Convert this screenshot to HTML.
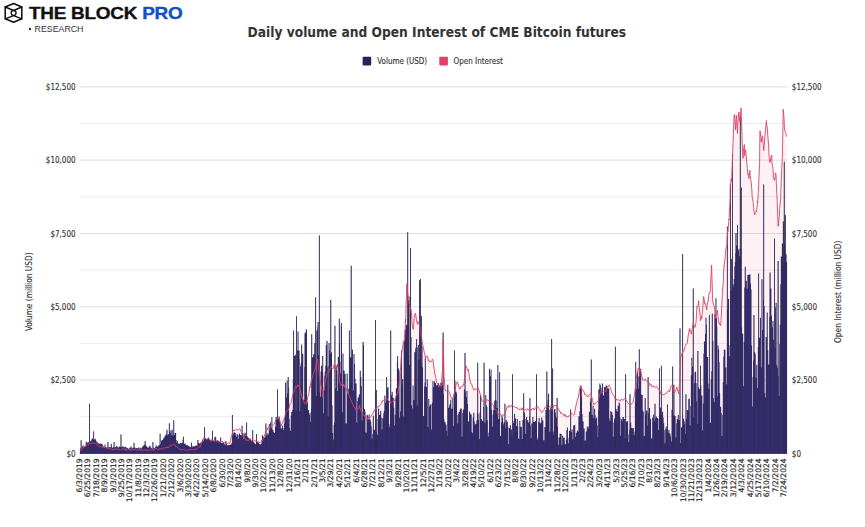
<!DOCTYPE html>
<html lang="en"><head><meta charset="utf-8"><title>Daily volume and Open Interest of CME Bitcoin futures</title>
<style>
html,body{margin:0;padding:0;background:#fff;}
body{width:865px;height:527px;overflow:hidden;font-family:"DejaVu Sans Condensed","DejaVu Sans","Liberation Sans",sans-serif;}
svg text{font-family:"DejaVu Sans Condensed","DejaVu Sans","Liberation Sans",sans-serif;} svg text.xl{font-family:"DejaVu Sans","Liberation Sans",sans-serif;}
.t{font-size:8px;fill:#333333;stroke:#333333;stroke-width:0.12px;}
.xl{font-family:"DejaVu Sans","Liberation Sans",sans-serif;font-size:7.6px;fill:#2a2a2a;stroke:#2a2a2a;stroke-width:0.18px;}
.title{font-size:13.65px;font-weight:bold;fill:#333;}
.logo{font-family:"Liberation Sans",sans-serif;font-weight:bold;font-size:15.6px;fill:#111;stroke:#111;stroke-width:0.35px;letter-spacing:-0.2px;} .logo tspan{stroke:#1351c4;}
.res{font-family:"Liberation Sans",sans-serif;font-size:8.8px;fill:#333;}
</style></head><body>
<svg width="865" height="527" viewBox="0 0 865 527" style="display:block">
<rect width="865" height="527" fill="#ffffff"/>
<rect x="79.9" y="416.24" width="707.2" height="1" fill="#eeeeee"/>
<rect x="79.9" y="379.58" width="707.2" height="1" fill="#dedede"/>
<rect x="79.9" y="342.92" width="707.2" height="1" fill="#eeeeee"/>
<rect x="79.9" y="306.26" width="707.2" height="1" fill="#dedede"/>
<rect x="79.9" y="269.60" width="707.2" height="1" fill="#eeeeee"/>
<rect x="79.9" y="232.94" width="707.2" height="1" fill="#dedede"/>
<rect x="79.9" y="196.28" width="707.2" height="1" fill="#eeeeee"/>
<rect x="79.9" y="159.62" width="707.2" height="1" fill="#dedede"/>
<rect x="79.9" y="122.96" width="707.2" height="1" fill="#eeeeee"/>
<rect x="79.9" y="86.30" width="707.2" height="1" fill="#dedede"/>
<path d="M80.0,450.6 L81.1,450.3 L82.2,448.2 L83.0,448.2 L83.3,447.6 L84.4,446.5 L85.5,446.5 L86.0,445.0 L86.6,444.7 L87.7,444.7 L88.8,444.4 L89.0,443.7 L89.9,444.0 L91.0,443.1 L92.1,443.3 L93.0,443.4 L93.2,442.8 L94.3,442.9 L95.4,443.0 L96.0,444.0 L96.5,444.2 L97.6,444.9 L98.7,445.8 L99.0,445.8 L99.8,446.4 L100.9,447.1 L101.0,447.1 L102.0,446.8 L103.1,447.3 L104.2,446.8 L105.0,447.9 L105.3,446.9 L106.4,447.6 L107.5,449.1 L108.6,447.6 L109.7,449.3 L110.0,449.1 L110.8,448.9 L111.9,449.3 L113.0,449.4 L114.1,449.7 L115.2,449.1 L116.3,449.0 L117.4,449.1 L118.5,448.9 L119.6,449.5 L120.0,449.4 L120.7,450.1 L121.8,448.7 L122.9,449.1 L124.0,449.2 L125.1,448.7 L126.2,450.7 L127.3,448.7 L128.4,449.8 L129.5,449.7 L130.0,450.3 L130.6,449.0 L131.7,450.5 L132.8,449.6 L133.9,449.9 L135.0,449.7 L136.1,450.3 L137.2,449.4 L138.3,450.0 L139.4,450.2 L140.0,450.3 L140.5,448.8 L141.6,450.7 L142.7,450.5 L143.8,449.8 L144.9,450.1 L146.0,449.8 L147.1,450.8 L148.2,450.1 L149.3,449.9 L150.0,450.0 L150.4,449.9 L151.5,449.8 L152.6,449.4 L153.7,450.8 L154.8,448.8 L155.9,447.9 L157.0,449.5 L158.0,449.5 L158.1,449.7 L159.2,449.1 L160.3,448.9 L161.4,448.9 L162.5,449.0 L163.6,448.1 L164.7,447.9 L165.0,448.3 L165.8,448.0 L166.9,446.7 L168.0,448.0 L169.1,446.8 L170.0,445.9 L170.2,445.3 L171.3,445.7 L172.4,444.7 L173.5,444.2 L174.0,444.4 L174.6,444.8 L175.7,446.5 L176.8,446.6 L177.0,446.7 L177.9,448.1 L179.0,448.7 L180.0,449.6 L180.1,450.1 L181.2,449.5 L182.3,449.5 L183.4,449.6 L184.5,449.2 L185.6,450.1 L186.7,450.5 L187.8,450.0 L188.9,449.8 L190.0,449.9 L190.0,449.9 L191.1,449.6 L192.2,449.7 L193.3,449.5 L194.4,449.6 L195.5,449.0 L196.0,449.9 L196.6,449.4 L197.7,448.0 L198.8,446.7 L199.9,447.1 L200.0,447.2 L201.0,444.1 L202.0,441.9 L202.1,441.5 L203.2,439.8 L204.0,437.4 L204.3,438.4 L205.4,438.1 L206.5,439.3 L207.0,439.0 L207.6,439.2 L208.7,439.0 L209.8,440.0 L210.0,440.4 L210.9,441.0 L212.0,440.8 L213.1,440.4 L214.2,441.2 L215.0,441.2 L215.3,440.9 L216.4,440.9 L217.5,441.0 L218.6,441.8 L219.7,441.8 L220.0,441.3 L220.8,441.9 L221.9,441.6 L223.0,441.7 L224.1,443.0 L225.0,442.7 L225.2,442.1 L226.3,442.8 L227.4,443.3 L228.5,442.9 L229.6,443.5 L229.8,443.7 L230.7,438.8 L231.8,435.5 L232.8,431.4 L232.9,431.5 L234.0,429.8 L235.1,430.6 L236.2,429.4 L237.3,430.0 L238.4,429.7 L239.5,429.0 L239.7,428.6 L240.6,430.2 L241.7,433.4 L242.8,434.4 L243.9,437.5 L244.6,438.7 L245.0,438.6 L246.1,440.5 L247.2,439.5 L248.3,441.1 L249.4,439.0 L250.5,439.2 L251.6,441.4 L252.0,441.1 L252.7,440.9 L253.8,441.2 L254.9,440.3 L256.0,441.2 L257.1,441.1 L258.2,441.7 L259.3,442.5 L260.4,442.1 L261.5,442.5 L261.9,442.2 L262.6,440.2 L263.7,437.5 L264.8,434.3 L265.9,432.4 L266.9,428.6 L267.0,430.1 L268.1,427.3 L269.2,428.0 L270.3,425.9 L271.4,427.0 L272.5,425.1 L273.6,424.6 L274.3,424.0 L274.7,422.6 L275.8,420.5 L276.9,417.8 L278.0,418.7 L278.0,417.5 L279.1,419.4 L280.2,422.0 L281.3,425.7 L281.7,424.5 L282.4,423.3 L283.5,419.7 L284.6,417.5 L285.7,412.4 L286.6,411.4 L286.8,411.9 L287.9,410.3 L289.0,408.2 L290.1,403.6 L291.2,402.3 L291.5,401.6 L292.3,396.9 L293.4,392.4 L294.5,390.5 L295.2,386.9 L295.6,386.5 L296.7,387.8 L297.8,384.8 L298.9,386.3 L299.0,385.6 L300.0,389.2 L301.1,393.8 L302.2,397.4 L302.7,399.1 L303.3,400.1 L304.4,403.3 L305.5,402.5 L306.4,404.4 L306.6,403.7 L307.7,397.4 L308.8,393.4 L309.9,386.3 L310.0,387.3 L311.0,381.9 L312.1,378.0 L313.2,374.8 L313.8,372.4 L314.3,371.6 L315.4,367.9 L316.5,362.7 L317.5,359.1 L317.6,361.2 L318.7,369.5 L319.8,376.6 L320.0,379.8 L320.9,385.0 L322.0,390.2 L322.9,396.9 L323.1,394.0 L324.2,387.7 L325.3,382.4 L326.1,376.3 L326.4,376.4 L327.5,372.4 L328.6,372.9 L329.7,368.7 L329.8,369.6 L330.8,366.8 L331.9,367.6 L333.0,368.7 L333.5,367.2 L334.1,364.5 L335.0,367.7 L335.2,368.3 L336.3,365.4 L337.4,366.9 L337.6,364.2 L338.5,371.2 L339.6,380.9 L340.2,384.5 L340.7,385.8 L341.8,383.6 L342.9,383.5 L344.0,386.6 L344.0,384.7 L345.1,387.8 L346.2,387.9 L347.3,392.1 L347.8,391.9 L348.4,393.8 L349.5,396.1 L350.6,399.0 L351.7,401.7 L351.7,402.2 L352.8,404.3 L353.9,406.7 L355.0,408.1 L355.5,410.1 L356.1,409.4 L357.2,409.7 L358.3,409.0 L359.4,406.7 L359.4,405.4 L360.5,410.4 L361.6,411.0 L362.7,413.7 L363.2,414.5 L363.8,415.5 L364.9,415.9 L366.0,418.3 L367.0,419.6 L367.1,419.6 L368.2,416.9 L369.3,418.8 L370.4,417.6 L370.9,416.5 L371.5,415.2 L372.6,413.7 L373.7,412.0 L374.7,409.5 L374.8,410.7 L375.9,408.8 L377.0,407.1 L378.1,406.7 L378.6,407.2 L379.2,405.4 L380.3,404.9 L381.4,403.2 L382.4,400.7 L382.5,401.5 L383.6,399.9 L384.7,399.7 L385.8,398.7 L386.2,399.0 L386.9,398.3 L388.0,400.4 L389.1,400.9 L390.1,402.5 L390.2,403.1 L391.3,402.7 L392.4,401.1 L393.5,402.2 L393.9,400.8 L394.6,400.4 L395.7,396.9 L396.8,394.0 L397.8,394.2 L397.9,393.5 L399.0,384.5 L400.0,375.2 L400.1,375.3 L401.2,357.9 L401.5,354.6 L402.3,349.1 L403.4,341.8 L404.4,340.7 L404.5,341.8 L405.6,318.9 L405.6,321.9 L406.7,285.5 L406.8,283.7 L407.6,292.0 L407.8,293.9 L408.9,299.5 L409.1,303.1 L410.0,307.0 L411.0,310.2 L411.1,309.0 L412.2,324.0 L412.9,328.9 L413.3,329.4 L414.4,314.6 L414.8,314.5 L415.5,313.1 L416.6,321.0 L417.7,324.3 L417.7,321.7 L418.8,322.4 L419.9,327.2 L420.5,328.1 L421.0,330.8 L422.1,341.6 L422.4,343.2 L423.2,346.8 L424.3,352.6 L425.2,356.1 L425.4,358.7 L426.5,356.2 L427.6,356.2 L428.5,361.0 L428.7,360.1 L429.8,362.1 L430.0,362.2 L430.9,361.3 L432.0,360.9 L432.3,359.0 L433.1,360.6 L434.2,369.4 L434.9,374.5 L435.3,374.7 L436.4,381.0 L437.4,383.9 L437.5,383.5 L438.6,386.6 L439.7,386.6 L440.8,385.8 L441.3,386.8 L441.9,376.5 L442.5,369.7 L443.0,350.0 L443.2,340.0 L444.0,374.5 L444.1,376.9 L445.1,389.1 L445.2,390.6 L446.3,390.9 L447.4,390.2 L448.5,390.7 L449.0,391.5 L449.6,392.5 L450.7,396.6 L451.8,398.9 L452.8,399.7 L452.9,399.2 L454.0,393.7 L455.1,390.2 L456.2,383.9 L456.6,382.7 L457.3,381.7 L458.4,385.0 L459.5,389.1 L460.5,388.6 L460.6,387.1 L461.7,386.4 L462.8,386.4 L463.9,383.9 L464.3,381.1 L465.0,372.4 L465.6,365.9 L466.1,365.7 L467.2,369.1 L468.2,370.9 L468.3,369.5 L469.4,376.4 L470.5,382.6 L470.7,383.5 L471.6,383.7 L472.7,387.6 L473.8,390.2 L474.6,388.9 L474.9,388.5 L476.0,389.6 L477.1,388.7 L478.2,388.1 L478.4,389.6 L479.3,390.9 L480.4,394.9 L481.5,398.7 L482.2,401.5 L482.6,401.4 L483.7,401.9 L484.8,402.4 L485.9,401.3 L486.1,400.5 L487.0,399.4 L488.1,400.9 L489.2,400.3 L490.3,401.5 L491.2,402.1 L491.4,402.4 L492.5,404.2 L493.6,405.9 L494.7,408.9 L495.0,409.5 L495.8,409.7 L496.9,411.5 L498.0,414.2 L498.9,414.1 L499.1,414.2 L500.2,413.6 L501.3,416.0 L502.4,415.1 L503.5,415.1 L504.0,414.7 L504.6,413.7 L505.7,411.5 L506.8,407.5 L507.8,407.1 L507.9,407.5 L509.0,405.2 L510.1,407.0 L511.2,406.4 L511.7,405.1 L512.3,405.4 L513.4,406.2 L514.5,406.5 L515.6,408.0 L516.7,406.9 L516.8,408.1 L517.8,408.7 L518.9,409.4 L520.0,409.1 L521.1,409.1 L521.9,409.7 L522.2,407.7 L523.3,410.7 L524.4,409.9 L525.5,409.3 L526.6,410.3 L527.0,410.2 L527.7,408.7 L528.8,410.0 L529.9,409.4 L531.0,410.5 L532.1,408.7 L532.2,409.1 L533.2,408.1 L534.3,410.1 L535.4,408.0 L536.5,406.8 L537.3,406.7 L537.6,406.2 L538.7,408.2 L539.8,409.8 L540.9,411.6 L542.0,412.7 L542.4,412.1 L543.1,410.7 L544.2,409.4 L545.3,407.0 L546.4,407.1 L547.5,407.1 L547.5,406.7 L548.6,407.6 L549.7,406.2 L550.8,408.6 L551.9,408.3 L552.6,408.2 L553.0,408.3 L554.1,405.1 L555.2,405.9 L556.3,404.9 L556.5,406.2 L557.4,406.9 L558.5,408.5 L559.6,411.6 L560.3,411.7 L560.7,413.7 L561.8,412.9 L562.9,414.5 L564.0,414.9 L564.2,416.1 L565.1,414.3 L566.2,417.2 L567.3,416.3 L568.0,417.2 L568.4,415.8 L569.5,415.9 L570.6,414.7 L571.7,413.9 L571.8,413.4 L572.8,414.4 L573.9,415.2 L574.4,414.5 L575.0,410.6 L576.1,405.0 L577.0,402.0 L577.2,400.5 L578.3,397.3 L579.4,391.4 L580.5,385.3 L580.8,385.6 L581.6,389.5 L582.7,389.7 L583.4,391.2 L583.8,391.2 L584.9,394.6 L586.0,394.5 L587.1,396.1 L587.2,397.0 L588.2,396.0 L589.3,395.3 L590.4,393.8 L591.0,393.8 L591.5,396.2 L592.6,400.6 L593.6,404.6 L593.7,403.8 L594.8,403.9 L595.9,403.3 L597.0,402.2 L597.4,402.0 L598.1,400.8 L599.2,396.6 L600.0,394.0 L600.3,392.7 L601.4,393.5 L602.5,392.3 L603.6,391.4 L603.8,391.3 L604.7,391.1 L605.8,391.9 L606.9,388.0 L607.7,386.4 L608.0,386.6 L609.0,385.0 L609.1,385.6 L610.2,387.5 L611.3,390.4 L611.5,391.7 L612.4,393.6 L613.5,395.4 L614.6,396.9 L615.4,399.4 L615.7,398.2 L616.8,400.4 L617.9,399.5 L619.0,400.1 L620.1,401.2 L620.5,400.7 L621.2,399.0 L622.3,399.8 L623.4,400.2 L624.5,398.4 L625.6,398.4 L625.6,399.2 L626.7,400.7 L627.8,402.7 L628.9,403.8 L629.4,404.4 L630.0,404.2 L631.1,404.6 L632.2,403.0 L633.3,402.0 L633.3,401.4 L634.4,395.5 L635.5,386.4 L635.9,384.2 L636.6,375.8 L637.7,370.4 L637.9,368.5 L638.8,368.3 L639.9,371.3 L640.5,370.0 L641.0,372.1 L642.1,377.1 L642.3,379.6 L643.2,380.0 L644.3,380.3 L645.4,378.8 L646.1,380.6 L646.5,381.2 L647.6,381.7 L648.7,383.4 L649.8,383.1 L649.9,385.5 L650.9,384.2 L652.0,386.9 L653.1,385.7 L653.8,386.2 L654.2,387.1 L655.3,387.2 L656.4,386.0 L657.5,387.6 L657.6,387.9 L658.6,389.4 L659.7,390.3 L660.8,393.8 L661.5,395.0 L661.9,394.6 L663.0,394.9 L664.1,394.5 L665.2,393.9 L665.3,393.5 L666.3,393.5 L667.4,391.8 L668.5,390.4 L669.1,390.4 L669.6,391.9 L670.7,387.0 L671.8,385.4 L672.5,386.8 L672.9,386.7 L674.0,392.2 L674.8,392.5 L675.1,391.4 L676.2,389.4 L676.8,386.9 L677.3,388.8 L678.4,392.8 L678.9,394.1 L679.5,383.7 L680.0,375.9 L680.6,363.6 L680.8,357.4 L681.7,354.3 L682.7,351.4 L682.8,352.3 L683.9,350.7 L685.0,346.5 L685.6,345.5 L686.1,344.0 L687.2,343.4 L688.3,334.8 L688.4,334.8 L689.4,328.5 L689.7,330.9 L690.5,330.2 L691.3,334.3 L691.6,332.0 L692.7,325.7 L693.2,322.9 L693.8,325.0 L694.9,327.4 L695.1,327.2 L696.0,322.2 L697.0,306.0 L697.1,306.7 L698.2,305.4 L698.5,300.7 L699.3,308.3 L700.4,317.2 L700.4,320.6 L701.5,316.6 L701.7,318.4 L702.6,309.3 L703.6,296.5 L703.7,296.6 L704.8,304.0 L705.5,303.5 L705.9,305.9 L706.8,310.0 L707.0,305.7 L708.1,301.0 L708.7,295.7 L709.2,292.6 L710.2,292.2 L710.3,290.4 L711.4,268.6 L711.6,265.2 L712.5,295.9 L712.7,300.9 L713.6,305.1 L714.0,305.6 L714.7,309.4 L715.6,318.5 L715.8,315.9 L716.9,312.9 L717.5,310.1 L718.0,316.4 L718.8,322.8 L719.1,322.5 L720.2,325.2 L720.7,325.7 L721.3,315.0 L722.0,301.1 L722.4,292.4 L723.5,278.9 L723.5,272.2 L724.6,260.8 L724.9,260.7 L725.3,254.1 L725.7,250.3 L726.8,245.3 L727.6,230.7 L727.9,232.0 L729.0,219.1 L729.0,220.0 L729.8,203.9 L730.1,198.4 L730.2,186.2 L731.2,178.8 L731.6,181.5 L732.3,162.1 L732.6,154.5 L733.4,133.7 L734.1,115.8 L734.5,114.5 L735.3,126.8 L735.6,129.8 L736.3,115.2 L736.7,119.7 L737.5,133.5 L737.8,123.4 L738.8,113.0 L738.9,112.0 L739.8,120.8 L740.0,122.3 L741.0,108.0 L741.1,108.5 L742.0,134.7 L742.2,142.6 L743.0,158.4 L743.3,151.6 L744.4,144.5 L744.4,155.7 L745.5,149.7 L745.9,151.2 L746.6,161.3 L747.4,168.5 L747.7,174.6 L748.8,173.9 L748.9,178.6 L749.9,170.3 L750.1,175.8 L751.0,180.5 L751.9,190.0 L752.1,195.8 L753.0,201.3 L753.2,203.3 L754.3,213.7 L754.8,215.0 L755.4,212.5 L756.3,210.9 L756.5,211.8 L757.6,201.2 L757.7,202.4 L758.7,184.3 L758.8,180.3 L759.6,164.8 L759.8,142.1 L760.0,130.7 L760.9,137.5 L761.2,142.2 L762.0,137.8 L762.5,135.7 L763.1,144.2 L763.7,150.6 L764.2,145.9 L764.9,136.1 L765.3,132.0 L766.4,120.6 L766.4,121.6 L767.5,130.2 L767.7,134.5 L768.6,145.2 L769.1,157.1 L769.7,162.3 L770.6,161.9 L770.8,156.9 L771.9,155.2 L771.9,162.4 L773.0,168.8 L773.3,176.4 L774.1,180.2 L774.8,180.1 L775.2,172.7 L776.0,174.1 L776.3,182.6 L777.2,201.7 L777.4,207.0 L778.1,226.4 L778.5,223.8 L779.5,214.4 L779.6,208.9 L780.7,197.8 L780.8,192.3 L781.8,167.5 L782.3,158.4 L782.9,129.8 L783.2,109.2 L784.0,117.4 L784.4,127.9 L785.1,131.7 L785.4,132.8 L786.2,133.9 L786.4,136.6 L786.4,453.4 L80.0,453.4 Z" fill="#df3f68" fill-opacity="0.07"/>
<path d="M79.90,453.4V448.5H80.42V448.5H80.95V440.2H81.47V447.5H81.99V446.4H82.52V445.3H83.04V445.3H83.56V447.5H84.08V446.2H84.61V446.2H85.13V446.4H85.65V441.7H86.18V441.7H86.70V442.8H87.22V442.8H87.75V442.3H88.27V442.3H88.79V442.5H89.32V403.8H89.84V441.5H90.36V440.8H90.88V440.8H91.41V439.2H91.93V438.5H92.45V438.5H92.98V440.2H93.50V431.5H94.02V439.8H94.55V438.7H95.07V438.7H95.59V439.4H96.12V441.1H96.64V442.2H97.16V442.2H97.68V443.0H98.21V443.0H98.73V444.1H99.25V443.7H99.78V443.7H100.30V443.6H100.82V443.6H101.35V444.0H101.87V444.0H102.39V444.7H102.92V446.6H103.44V446.6H103.96V447.1H104.48V444.5H105.01V444.5H105.53V447.3H106.05V447.3H106.58V447.9H107.10V447.4H107.62V442.0H108.15V448.3H108.67V447.0H109.19V447.0H109.72V447.3H110.24V446.9H110.76V443.7H111.28V443.7H111.81V447.5H112.33V447.7H112.85V447.2H113.38V447.2H113.90V442.0H114.42V447.4H114.95V447.2H115.47V447.0H115.99V446.1H116.52V446.1H117.04V446.7H117.56V447.2H118.08V447.8H118.61V446.7H119.13V446.5H119.65V446.5H120.18V447.0H120.70V434.5H121.22V447.3H121.75V447.0H122.27V446.2H122.79V446.2H123.32V446.8H123.84V447.6H124.36V446.8H124.88V446.8H125.41V447.0H125.93V447.0H126.45V448.3H126.98V447.9H127.50V447.9H128.02V448.2H128.55V449.2H129.07V448.5H129.59V447.4H130.12V447.4H130.64V446.6H131.16V446.6H131.68V448.2H132.21V448.2H132.73V448.3H133.25V447.4H133.78V442.8H134.30V447.6H134.82V447.6H135.35V448.5H135.87V448.0H136.39V448.0H136.92V448.6H137.44V448.1H137.96V447.4H138.48V447.4H139.01V448.8H139.53V447.4H140.05V447.4H140.58V447.9H141.10V448.5H141.62V447.7H142.15V446.4H142.67V446.4H143.19V445.3H143.72V445.3H144.24V444.5H144.76V441.0H145.28V445.4H145.81V446.1H146.33V446.1H146.85V446.9H147.38V447.5H147.90V448.0H148.42V446.7H148.95V446.7H149.47V445.4H149.99V445.4H150.52V447.6H151.04V447.8H151.56V448.2H152.08V449.4H152.61V442.0H153.13V447.5H153.65V448.4H154.18V448.3H154.70V447.4H155.22V446.7H155.75V445.2H156.27V445.2H156.79V447.1H157.32V446.5H157.84V445.7H158.36V445.7H158.88V445.2H159.41V445.1H159.93V433.8H160.45V444.3H160.98V440.5H161.50V440.5H162.02V440.0H162.55V440.0H163.07V438.4H163.59V437.4H164.12V437.4H164.64V435.6H165.16V435.6H165.68V434.3H166.21V434.3H166.73V429.8H167.25V435.5H167.78V434.6H168.30V434.1H168.82V423.3H169.35V423.3H169.87V432.7H170.39V430.5H170.92V430.5H171.44V435.2H171.96V429.8H172.48V435.2H173.01V435.8H173.53V420.3H174.05V434.9H174.58V433.1H175.10V433.1H175.62V433.1H176.15V440.0H176.67V443.1H177.19V441.0H177.72V444.5H178.24V443.2H178.76V443.2H179.28V444.2H179.81V443.1H180.33V443.1H180.85V443.2H181.38V442.9H181.90V442.9H182.42V439.8H182.95V436.8H183.47V444.0H183.99V443.7H184.52V443.4H185.04V443.4H185.56V444.7H186.08V444.7H186.61V445.8H187.13V445.1H187.65V445.1H188.18V446.0H188.70V446.0H189.22V446.8H189.75V446.8H190.27V446.9H190.79V447.4H191.32V442.8H191.84V447.3H192.36V446.0H192.88V446.0H193.41V446.4H193.93V446.7H194.45V445.9H194.98V445.8H195.50V445.4H196.02V445.4H196.55V445.7H197.07V445.8H197.59V440.0H198.12V442.9H198.64V442.9H199.16V443.8H199.68V443.1H200.21V443.1H200.73V442.2H201.25V442.0H201.78V441.7H202.30V439.6H202.82V439.6H203.35V441.0H203.87V438.6H204.39V427.2H204.92V438.4H205.44V438.4H205.96V439.3H206.48V439.3H207.01V438.4H207.53V438.4H208.05V437.5H208.58V437.5H209.10V438.8H209.62V439.9H210.15V439.9H210.67V439.4H211.19V439.4H211.72V441.3H212.24V430.7H212.76V440.6H213.28V441.1H213.81V441.1H214.33V437.2H214.85V437.2H215.38V436.8H215.90V441.1H216.42V441.5H216.95V440.3H217.47V440.3H217.99V440.8H218.52V440.8H219.04V441.7H219.56V442.2H220.08V443.3H220.61V437.6H221.13V442.9H221.65V443.3H222.18V442.6H222.70V442.6H223.22V442.6H223.75V443.3H224.27V444.1H224.79V445.0H225.32V440.9H225.84V440.9H226.36V443.6H226.88V445.0H227.41V445.4H227.93V445.1H228.45V445.1H228.98V445.0H229.50V445.0H230.02V445.0H230.55V444.4H231.07V443.4H231.59V443.4H232.12V415.0H232.64V435.5H233.16V433.5H233.68V432.0H234.21V432.0H234.73V433.1H235.25V433.1H235.78V434.8H236.30V436.7H236.82V434.3H237.35V434.3H237.87V439.0H238.39V435.0H238.92V433.4H239.44V433.4H239.96V434.9H240.48V434.9H241.01V435.4H241.53V425.7H242.05V425.7H242.58V433.2H243.10V433.2H243.62V439.1H244.15V433.7H244.67V432.7H245.19V432.7H245.72V435.9H246.24V422.6H246.76V436.2H247.28V436.5H247.81V437.8H248.33V437.8H248.85V438.3H249.38V439.3H249.90V438.8H250.42V438.8H250.95V440.1H251.47V440.9H251.99V440.6H252.52V430.0H253.04V442.2H253.56V442.2H254.08V442.5H254.61V443.6H255.13V444.2H255.65V444.0H256.18V434.0H256.70V441.9H257.22V441.9H257.75V442.6H258.27V442.6H258.79V443.5H259.32V443.9H259.84V444.9H260.36V444.1H260.88V444.1H261.41V440.0H261.93V435.3H262.45V435.3H262.98V436.9H263.50V436.9H264.02V437.9H264.55V437.1H265.07V437.1H265.59V423.6H266.12V435.2H266.64V433.2H267.16V433.2H267.68V435.2H268.21V433.4H268.73V424.1H269.25V424.1H269.78V430.1H270.30V422.6H270.82V427.9H271.35V417.1H271.87V417.1H272.39V429.7H272.92V429.7H273.44V432.0H273.96V433.1H274.48V433.1H275.01V426.8H275.53V417.0H276.05V417.0H276.58V417.2H277.10V389.4H277.62V415.8H278.15V418.5H278.67V416.8H279.19V416.8H279.72V419.5H280.24V423.7H280.76V428.5H281.28V428.5H281.81V425.7H282.33V425.7H282.85V428.1H283.38V430.1H283.90V423.5H284.42V417.8H284.95V417.8H285.47V382.8H285.99V397.6H286.52V380.8H287.04V380.8H287.56V393.4H288.08V377.0H288.61V387.8H289.13V418.9H289.65V428.2H290.18V430.9H290.70V415.5H291.22V412.1H291.75V412.1H292.27V409.7H292.79V379.2H293.32V330.5H293.84V356.0H294.36V356.0H294.88V354.7H295.41V354.7H295.93V410.6H296.45V316.3H296.98V350.4H297.50V331.4H298.02V331.4H298.55V350.6H299.07V350.6H299.59V411.3H300.12V366.2H300.64V363.2H301.16V344.5H301.68V344.5H302.21V353.7H302.73V353.7H303.25V399.9H303.78V399.9H304.30V367.2H304.82V333.3H305.35V332.1H305.87V329.3H306.39V329.3H306.92V402.0H307.44V402.0H307.96V409.9H308.48V409.9H309.01V414.8H309.53V412.8H310.05V412.8H310.58V422.0H311.10V408.2H311.62V334.3H312.15V357.2H312.67V357.2H313.19V354.2H313.72V354.2H314.24V343.0H314.76V343.0H315.28V297.3H315.81V396.0H316.33V330.5H316.85V330.5H317.38V326.6H317.90V322.0H318.42V355.0H318.95V235.4H319.47V392.3H319.99V396.8H320.52V371.3H321.04V365.8H321.56V365.8H322.08V371.7H322.61V356.0H323.13V413.2H323.65V390.9H324.18V375.7H324.70V371.7H325.22V365.8H325.75V345.1H326.27V345.1H326.79V341.0H327.32V367.2H327.84V416.4H328.36V366.1H328.88V343.0H329.41V350.8H329.93V354.1H330.45V300.0H330.98V352.2H331.50V352.2H332.02V405.2H332.55V433.0H333.07V439.6H333.59V424.7H334.12V422.2H334.64V325.8H335.16V388.5H335.68V366.1H336.21V366.1H336.73V370.2H337.25V390.9H337.78V356.9H338.30V356.9H338.82V318.7H339.35V318.7H339.87V361.5H340.39V373.5H340.92V322.9H341.44V326.7H341.96V412.2H342.48V353.4H343.01V353.4H343.53V370.4H344.05V370.4H344.58V373.7H345.10V373.7H345.62V423.4H346.15V423.4H346.67V373.4H347.19V373.4H347.72V393.8H348.24V388.7H348.76V388.7H349.28V330.5H349.81V357.2H350.33V357.2H350.85V265.7H351.38V357.4H351.90V349.6H352.42V349.6H352.95V390.6H353.47V354.0H353.99V354.0H354.52V364.0H355.04V378.8H355.56V383.5H356.08V383.5H356.61V422.8H357.13V401.1H357.65V397.4H358.18V397.4H358.70V394.6H359.22V394.6H359.75V370.8H360.27V370.8H360.79V377.0H361.32V386.1H361.84V420.2H362.36V412.7H362.88V341.9H363.41V345.0H363.93V409.0H364.45V409.0H364.98V411.4H365.50V432.3H366.02V432.8H366.55V414.8H367.07V414.8H367.59V415.6H368.12V419.4H368.64V414.4H369.16V414.4H369.68V419.6H370.21V419.6H370.73V422.0H371.25V426.6H371.78V438.4H372.30V433.9H372.82V415.4H373.35V415.4H373.87V429.8H374.39V429.8H374.92V431.0H375.44V320.0H375.96V390.0H376.48V433.1H377.01V435.0H377.53V418.8H378.05V408.4H378.58V408.4H379.10V414.4H379.62V415.0H380.15V410.7H380.67V410.7H381.19V417.6H381.72V429.5H382.24V418.3H382.76V418.3H383.28V413.2H383.81V410.9H384.33V395.4H384.85V395.4H385.38V402.8H385.90V400.1H386.42V377.0H386.95V388.2H387.47V387.1H387.99V387.1H388.52V401.3H389.04V424.2H389.56V427.2H390.08V403.5H390.61V330.5H391.13V395.2H391.65V391.8H392.18V391.8H392.70V397.8H393.22V397.8H393.75V407.6H394.27V425.2H394.79V414.7H395.32V398.3H395.84V388.2H396.36V388.2H396.88V361.7H397.41V356.0H397.93V368.4H398.45V368.4H398.98V370.4H399.50V417.7H400.02V411.5H400.55V372.8H401.07V350.4H401.59V384.4H402.12V379.0H402.64V379.0H403.16V416.4H403.68V340.3H404.21V340.3H404.73V329.8H405.25V329.4H405.78V324.7H406.30V324.7H406.82V325.1H407.35V232.3H407.87V314.8H408.39V300.0H408.92V365.1H409.44V296.4H409.96V296.4H410.48V248.0H411.01V337.1H411.53V405.2H412.05V408.4H412.58V385.6H413.10V385.6H413.62V400.1H414.15V400.1H414.67V352.3H415.19V348.5H415.72V346.7H416.24V339.0H416.76V405.5H417.28V347.5H417.81V344.9H418.33V344.9H418.85V359.5H419.38V280.3H419.90V336.7H420.42V278.9H420.95V364.4H421.47V316.0H421.99V346.3H422.52V367.5H423.04V416.0H423.56V416.0H424.08V386.7H424.61V382.6H425.13V358.0H425.65V386.7H426.18V386.9H426.70V379.2H427.22V379.2H427.75V426.9H428.27V398.9H428.79V398.9H429.32V406.5H429.84V405.0H430.36V404.3H430.88V404.3H431.41V429.6H431.93V402.4H432.45V381.0H432.98V381.0H433.50V387.0H434.02V381.4H434.55V381.4H435.07V383.0H435.59V383.3H436.12V385.6H436.64V385.6H437.16V384.7H437.68V384.7H438.21V383.3H438.73V383.3H439.25V385.2H439.78V386.2H440.30V382.8H440.82V382.8H441.35V381.9H441.87V381.9H442.39V385.1H442.92V332.5H443.44V393.8H443.96V419.4H444.48V422.0H445.01V422.0H445.53V424.4H446.05V424.4H446.58V430.7H447.10V435.9H447.62V384.7H448.15V407.8H448.67V407.8H449.19V404.9H449.72V403.7H450.24V399.8H450.76V399.8H451.28V408.8H451.81V408.7H452.33V397.7H452.85V397.7H453.38V426.0H453.90V397.0H454.42V350.6H454.95V380.8H455.47V391.6H455.99V391.6H456.52V393.3H457.04V415.1H457.56V423.4H458.08V413.7H458.61V412.1H459.13V412.1H459.65V409.7H460.18V408.5H460.70V408.5H461.22V408.5H461.75V436.5H462.27V413.1H462.79V410.1H463.32V409.0H463.84V389.6H464.36V389.6H464.88V353.0H465.41V391.6H465.93V396.9H466.45V390.7H466.98V390.7H467.50V404.0H468.02V421.4H468.55V421.4H469.07V411.5H469.59V411.5H470.12V413.5H470.64V414.4H471.16V414.4H471.68V431.9H472.21V433.2H472.73V417.5H473.25V412.8H473.78V412.8H474.30V421.6H474.82V424.6H475.35V423.8H475.87V423.8H476.39V420.5H476.92V412.8H477.44V362.8H477.96V414.0H478.48V420.2H479.01V438.9H479.53V412.5H480.05V394.9H480.58V394.9H481.10V419.2H481.62V419.2H482.15V421.1H482.67V421.1H483.19V407.0H483.72V362.8H484.24V422.4H484.76V422.4H485.28V394.9H485.81V394.9H486.33V405.3H486.85V406.7H487.38V420.2H487.90V436.5H488.42V432.4H488.95V368.7H489.47V368.7H489.99V376.3H490.52V369.8H491.04V369.8H491.56V409.7H492.08V426.7H492.61V414.4H493.13V410.0H493.65V406.9H494.18V401.0H494.70V400.1H495.22V379.6H495.75V379.6H496.27V400.5H496.79V408.0H497.32V364.9H497.84V364.9H498.36V419.1H498.88V419.1H499.41V372.3H499.93V436.1H500.45V436.1H500.98V422.5H501.50V415.5H502.02V415.5H502.55V418.0H503.07V424.3H503.59V422.3H504.12V422.3H504.64V403.7H505.16V428.3H505.68V420.1H506.21V420.1H506.73V421.8H507.25V421.8H507.78V426.4H508.30V444.1H508.82V428.0H509.35V428.0H509.87V425.3H510.39V425.3H510.92V429.6H511.44V429.6H511.96V437.3H512.48V374.2H513.01V423.3H513.53V420.9H514.05V413.9H514.58V413.9H515.10V418.6H515.62V418.6H516.15V425.9H516.67V425.9H517.19V419.0H517.72V426.7H518.24V438.8H518.76V438.8H519.28V420.9H519.81V420.9H520.33V426.5H520.85V426.9H521.38V426.9H521.90V439.1H522.42V419.9H522.95V419.9H523.47V393.2H523.99V412.5H524.52V412.5H525.04V419.1H525.56V433.9H526.08V417.0H526.61V417.0H527.13V420.3H527.65V420.3H528.18V422.6H528.70V422.5H529.22V416.2H529.75V398.0H530.27V425.6H530.79V438.3H531.32V423.6H531.84V423.6H532.36V417.1H532.88V417.1H533.41V421.8H533.93V421.8H534.45V422.0H534.98V421.0H535.50V421.0H536.02V374.2H536.55V418.1H537.07V439.7H537.59V437.6H538.12V422.0H538.64V418.0H539.16V418.0H539.68V422.8H540.21V423.5H540.73V422.6H541.25V417.4H541.78V417.4H542.30V420.5H542.82V420.5H543.35V440.3H543.87V440.3H544.39V427.0H544.92V427.0H545.44V410.1H545.96V410.1H546.48V371.4H547.01V404.8H547.53V400.2H548.05V393.8H548.58V393.8H549.10V409.7H549.62V431.8H550.15V408.2H550.67V408.2H551.19V339.0H551.72V410.8H552.24V368.5H552.76V434.8H553.28V431.5H553.81V409.8H554.33V409.1H554.85V409.1H555.38V412.7H555.90V416.5H556.42V418.0H556.95V398.0H557.47V426.4H557.99V444.7H558.52V437.4H559.04V437.4H559.56V433.4H560.08V433.4H560.61V434.1H561.13V434.1H561.65V444.8H562.18V435.8H562.70V435.8H563.22V437.7H563.75V437.7H564.27V437.7H564.79V444.0H565.32V444.6H565.84V439.7H566.36V429.9H566.88V427.5H567.41V427.5H567.93V437.7H568.45V443.3H568.98V431.0H569.50V430.5H570.02V430.5H570.55V409.4H571.07V431.7H571.59V429.2H572.12V429.2H572.64V439.3H573.16V425.4H573.68V425.4H574.21V425.1H574.73V425.1H575.25V437.0H575.78V432.8H576.30V432.8H576.82V430.5H577.35V430.5H577.87V431.7H578.39V416.2H578.92V416.2H579.44V410.9H579.96V387.5H580.48V387.5H581.01V386.6H581.53V396.9H582.05V414.0H582.58V421.3H583.10V421.5H583.62V428.5H584.15V428.5H584.67V440.6H585.19V440.6H585.72V431.6H586.24V431.6H586.76V426.4H587.28V426.4H587.81V428.6H588.33V426.5H588.85V411.7H589.38V411.7H589.90V401.8H590.42V398.6H590.95V359.6H591.47V414.9H591.99V414.9H592.52V405.7H593.04V405.7H593.56V418.1H594.08V408.8H594.61V408.8H595.13V415.3H595.65V419.3H596.18V417.4H596.70V417.4H597.22V425.3H597.75V437.2H598.27V410.6H598.79V389.4H599.32V383.6H599.84V383.6H600.36V385.3H600.88V392.5H601.41V387.5H601.93V383.5H602.45V383.5H602.98V395.4H603.50V395.4H604.02V387.0H604.55V387.0H605.07V387.6H605.59V385.4H606.12V385.4H606.64V386.1H607.16V388.6H607.68V388.2H608.21V388.2H608.73V388.8H609.25V418.5H609.78V421.1H610.30V411.0H610.82V411.0H611.35V412.3H611.87V412.3H612.39V415.3H612.92V436.8H613.44V422.5H613.96V419.5H614.48V418.0H615.01V346.8H615.53V408.6H616.05V408.9H616.58V411.2H617.10V411.2H617.62V405.7H618.15V405.7H618.67V402.6H619.19V402.6H619.72V417.3H620.24V435.8H620.76V418.9H621.28V418.9H621.81V420.7H622.33V417.6H622.85V416.9H623.38V416.9H623.90V419.0H624.42V419.0H624.95V438.4H625.47V374.2H625.99V421.5H626.52V421.5H627.04V421.2H627.56V421.2H628.08V434.6H628.61V442.1H629.13V429.5H629.65V394.2H630.18V422.5H630.70V422.5H631.22V427.7H631.75V427.7H632.27V428.4H632.79V427.9H633.32V427.9H633.84V434.9H634.36V431.5H634.88V401.6H635.41V362.0H635.93V389.2H636.45V382.4H636.98V370.7H637.50V370.7H638.02V376.4H638.55V388.5H639.07V349.3H639.59V376.2H640.12V368.8H640.64V368.8H641.16V394.4H641.68V395.0H642.21V395.0H642.73V410.5H643.25V411.8H643.78V436.0H644.30V436.0H644.82V398.0H645.35V415.2H645.87V411.2H646.39V410.6H646.92V410.6H647.44V425.4H647.96V377.0H648.48V413.5H649.01V407.9H649.53V407.9H650.05V418.4H650.58V419.3H651.10V437.8H651.62V438.8H652.15V417.6H652.67V417.6H653.19V414.6H653.72V414.6H654.24V421.6H654.76V403.7H655.28V418.4H655.81V416.5H656.33V416.5H656.85V418.1H657.38V418.1H657.90V418.7H658.42V430.0H658.95V368.5H659.47V414.3H659.99V408.0H660.52V407.3H661.04V365.7H661.56V414.9H662.08V411.7H662.61V411.7H663.13V417.6H663.65V423.3H664.18V430.3H664.70V443.2H665.22V428.7H665.75V426.4H666.27V426.4H666.79V429.5H667.32V404.6H667.84V432.7H668.36V429.7H668.88V429.7H669.41V433.6H669.93V433.6H670.45V436.6H670.98V441.5H671.50V409.8H672.02V409.8H672.55V366.6H673.07V415.4H673.59V384.7H674.12V415.3H674.64V416.1H675.16V416.1H675.68V437.4H676.21V423.2H676.73V419.0H677.25V419.0H677.78V415.1H678.30V415.1H678.82V420.1H679.35V420.1H679.87V328.5H680.39V443.0H680.92V427.2H681.44V427.2H681.96V426.4H682.48V253.9H683.01V418.5H683.53V418.5H684.05V421.1H684.58V423.5H685.10V434.0H685.62V394.2H686.15V418.8H686.67V410.0H687.19V410.0H687.72V410.4H688.24V399.2H688.76V398.6H689.28V398.6H689.81V425.5H690.33V405.9H690.85V375.2H691.38V357.8H691.90V357.8H692.42V366.8H692.95V288.6H693.47V416.9H693.99V383.2H694.52V372.3H695.04V371.8H695.56V371.8H696.08V383.2H696.61V401.3H697.13V423.9H697.65V351.0H698.18V387.2H698.70V387.2H699.22V389.0H699.75V389.2H700.27V365.7H700.79V385.2H701.32V395.5H701.84V395.5H702.36V430.5H702.88V403.6H703.41V353.6H703.93V341.5H704.45V341.5H704.98V333.8H705.50V317.8H706.02V317.8H706.55V356.9H707.07V356.9H707.59V356.9H708.12V383.4H708.64V388.8H709.16V315.0H709.68V423.1H710.21V423.1H710.73V379.3H711.25V371.3H711.78V313.4H712.30V313.4H712.82V340.7H713.35V398.0H713.87V402.2H714.39V314.1H714.92V314.1H715.44V298.3H715.96V298.3H716.48V318.0H717.01V396.2H717.53V345.6H718.05V345.6H718.58V349.3H719.10V362.2H719.62V393.1H720.15V406.8H720.67V406.8H721.19V413.1H721.72V436.0H722.24V415.1H722.76V381.9H723.28V356.5H723.81V349.4H724.33V349.4H724.85V350.0H725.38V367.6H725.90V367.6H726.42V384.3H726.95V226.6H727.47V309.5H727.99V298.9H728.52V298.9H729.04V356.2H729.56V345.1H730.08V183.8H730.61V291.1H731.13V259.0H731.65V259.0H732.18V154.0H732.70V286.7H733.22V284.2H733.75V279.0H734.27V266.4H734.79V262.1H735.32V253.3H735.84V233.0H736.36V245.6H736.88V245.6H737.41V225.0H737.93V250.7H738.45V248.8H738.98V248.8H739.50V256.2H740.02V117.0H740.55V248.5H741.07V187.4H741.59V327.5H742.12V333.7H742.64V333.7H743.16V386.1H743.68V341.7H744.21V287.5H744.73V266.7H745.25V266.7H745.78V280.8H746.30V280.8H746.82V288.8H747.35V274.9H747.87V274.9H748.39V274.5H748.92V274.5H749.44V274.6H749.96V274.6H750.48V283.4H751.01V289.5H751.53V345.6H752.05V406.5H752.58V376.7H753.10V360.6H753.62V315.0H754.15V352.3H754.67V352.3H755.19V354.0H755.72V377.7H756.24V364.8H756.76V364.8H757.28V387.9H757.81V347.0H758.33V273.4H758.85V338.1H759.38V337.6H759.90V317.7H760.42V317.7H760.95V367.5H761.47V279.3H761.99V279.3H762.52V330.0H763.04V300.3H763.56V184.5H764.08V306.1H764.61V393.0H765.13V397.5H765.65V336.9H766.18V336.9H766.70V312.4H767.22V312.4H767.75V350.3H768.27V364.5H768.79V364.5H769.32V317.1H769.84V272.4H770.36V288.4H770.88V288.4H771.41V315.5H771.93V327.2H772.45V321.1H772.98V321.1H773.50V339.8H774.02V238.5H774.55V348.2H775.07V307.5H775.59V302.7H776.12V302.7H776.64V364.7H777.16V367.5H777.68V261.0H778.21V376.2H778.73V395.9H779.25V344.1H779.78V324.7H780.30V284.3H780.82V256.4H781.35V256.4H781.87V243.4H782.39V243.4H782.92V221.5H783.44V265.9H783.96V161.8H784.48V243.0H785.01V215.0H785.53V253.1H786.05V254.4H786.58V262.0H787.10V453.4Z" fill="#332b6a" stroke="none"/>
<path d="M80.60,453.4V440.2h0.8V453.4ZM89.00,453.4V403.8h0.8V453.4ZM93.30,453.4V431.5h0.8V453.4ZM120.60,453.4V434.5h0.8V453.4ZM107.60,453.4V442.0h0.8V453.4ZM113.60,453.4V442.0h0.8V453.4ZM133.60,453.4V442.8h0.8V453.4ZM144.80,453.4V441.0h0.8V453.4ZM152.60,453.4V442.0h0.8V453.4ZM159.60,453.4V433.8h0.8V453.4ZM166.60,453.4V429.8h0.8V453.4ZM171.60,453.4V429.8h0.8V453.4ZM173.40,453.4V420.3h0.8V453.4ZM176.90,453.4V441.0h0.8V453.4ZM183.00,453.4V436.8h0.8V453.4ZM191.10,453.4V442.8h0.8V453.4ZM197.60,453.4V440.0h0.8V453.4ZM204.30,453.4V427.2h0.8V453.4ZM212.10,453.4V430.7h0.8V453.4ZM215.40,453.4V436.8h0.8V453.4ZM220.30,453.4V437.6h0.8V453.4ZM231.90,453.4V415.0h0.8V453.4ZM246.30,453.4V422.6h0.8V453.4ZM252.40,453.4V430.0h0.8V453.4ZM256.20,453.4V434.0h0.8V453.4ZM265.60,453.4V423.6h0.8V453.4ZM270.00,453.4V422.6h0.8V453.4ZM277.10,453.4V389.4h0.8V453.4ZM285.20,453.4V382.8h0.8V453.4ZM287.70,453.4V377.0h0.8V453.4ZM293.30,453.4V330.5h0.8V453.4ZM296.10,453.4V316.3h0.8V453.4ZM298.60,453.4V359.0h0.8V453.4ZM304.60,453.4V333.3h0.8V453.4ZM306.10,453.4V334.0h0.8V453.4ZM311.30,453.4V334.3h0.8V453.4ZM315.30,453.4V297.3h0.8V453.4ZM317.60,453.4V322.0h0.8V453.4ZM318.90,453.4V235.4h0.8V453.4ZM322.30,453.4V356.0h0.8V453.4ZM326.60,453.4V341.0h0.8V453.4ZM328.60,453.4V343.0h0.8V453.4ZM330.50,453.4V300.0h0.8V453.4ZM334.60,453.4V325.8h0.8V453.4ZM339.00,453.4V342.8h0.8V453.4ZM340.90,453.4V322.9h0.8V453.4ZM348.90,453.4V330.5h0.8V453.4ZM350.80,453.4V265.7h0.8V453.4ZM362.60,453.4V341.9h0.8V453.4ZM363.10,453.4V345.0h0.8V453.4ZM375.10,453.4V320.0h0.8V453.4ZM375.90,453.4V390.0h0.8V453.4ZM386.30,453.4V377.0h0.8V453.4ZM390.30,453.4V330.5h0.8V453.4ZM397.30,453.4V356.0h0.8V453.4ZM401.10,453.4V350.4h0.8V453.4ZM405.40,453.4V340.0h0.8V453.4ZM407.40,453.4V232.3h0.8V453.4ZM408.20,453.4V300.0h0.8V453.4ZM410.10,453.4V248.0h0.8V453.4ZM414.40,453.4V352.3h0.8V453.4ZM416.30,453.4V339.0h0.8V453.4ZM419.20,453.4V280.3h0.8V453.4ZM420.20,453.4V278.9h0.8V453.4ZM421.10,453.4V316.0h0.8V453.4ZM424.80,453.4V358.0h0.8V453.4ZM442.60,453.4V332.5h0.8V453.4ZM447.40,453.4V384.7h0.8V453.4ZM454.10,453.4V350.6h0.8V453.4ZM464.50,453.4V353.0h0.8V453.4ZM477.40,453.4V362.8h0.8V453.4ZM483.70,453.4V362.8h0.8V453.4ZM499.30,453.4V372.3h0.8V453.4ZM504.60,453.4V403.7h0.8V453.4ZM512.20,453.4V374.2h0.8V453.4ZM516.80,453.4V419.0h0.8V453.4ZM523.40,453.4V393.2h0.8V453.4ZM529.50,453.4V398.0h0.8V453.4ZM536.10,453.4V374.2h0.8V453.4ZM546.60,453.4V371.4h0.8V453.4ZM551.30,453.4V339.0h0.8V453.4ZM552.30,453.4V368.5h0.8V453.4ZM556.60,453.4V398.0h0.8V453.4ZM570.30,453.4V409.4h0.8V453.4ZM580.70,453.4V386.6h0.8V453.4ZM590.80,453.4V359.6h0.8V453.4ZM598.40,453.4V389.4h0.8V453.4ZM614.90,453.4V346.8h0.8V453.4ZM619.30,453.4V403.7h0.8V453.4ZM625.30,453.4V374.2h0.8V453.4ZM629.70,453.4V394.2h0.8V453.4ZM635.40,453.4V362.0h0.8V453.4ZM638.80,453.4V349.3h0.8V453.4ZM644.80,453.4V398.0h0.8V453.4ZM647.60,453.4V377.0h0.8V453.4ZM654.60,453.4V403.7h0.8V453.4ZM659.00,453.4V368.5h0.8V453.4ZM660.90,453.4V365.7h0.8V453.4ZM667.00,453.4V404.6h0.8V453.4ZM672.30,453.4V366.6h0.8V453.4ZM673.60,453.4V384.7h0.8V453.4ZM679.50,453.4V328.5h0.8V453.4ZM682.30,453.4V253.9h0.8V453.4ZM685.60,453.4V394.2h0.8V453.4ZM692.80,453.4V288.6h0.8V453.4ZM697.50,453.4V351.0h0.8V453.4ZM700.20,453.4V365.7h0.8V453.4ZM706.10,453.4V324.7h0.8V453.4ZM708.90,453.4V315.0h0.8V453.4ZM716.50,453.4V326.6h0.8V453.4ZM726.90,453.4V226.6h0.8V453.4ZM730.20,453.4V183.8h0.8V453.4ZM732.10,453.4V154.0h0.8V453.4ZM735.50,453.4V233.0h0.8V453.4ZM737.10,453.4V225.0h0.8V453.4ZM739.80,453.4V117.0h0.8V453.4ZM740.80,453.4V187.4h0.8V453.4ZM753.60,453.4V315.0h0.8V453.4ZM758.30,453.4V273.4h0.8V453.4ZM763.30,453.4V184.5h0.8V453.4ZM769.60,453.4V272.4h0.8V453.4ZM774.00,453.4V238.5h0.8V453.4ZM777.80,453.4V261.0h0.8V453.4ZM782.90,453.4V221.5h0.8V453.4ZM783.80,453.4V161.8h0.8V453.4ZM784.80,453.4V215.0h0.8V453.4Z" fill="#302c55" stroke="none"/>
<rect x="79.9" y="453.10" width="707.2" height="0.8" fill="#332b6a"/>
<path d="M80.0,450.6 L81.1,450.3 L82.2,448.2 L83.0,448.2 L83.3,447.6 L84.4,446.5 L85.5,446.5 L86.0,445.0 L86.6,444.7 L87.7,444.7 L88.8,444.4 L89.0,443.7 L89.9,444.0 L91.0,443.1 L92.1,443.3 L93.0,443.4 L93.2,442.8 L94.3,442.9 L95.4,443.0 L96.0,444.0 L96.5,444.2 L97.6,444.9 L98.7,445.8 L99.0,445.8 L99.8,446.4 L100.9,447.1 L101.0,447.1 L102.0,446.8 L103.1,447.3 L104.2,446.8 L105.0,447.9 L105.3,446.9 L106.4,447.6 L107.5,449.1 L108.6,447.6 L109.7,449.3 L110.0,449.1 L110.8,448.9 L111.9,449.3 L113.0,449.4 L114.1,449.7 L115.2,449.1 L116.3,449.0 L117.4,449.1 L118.5,448.9 L119.6,449.5 L120.0,449.4 L120.7,450.1 L121.8,448.7 L122.9,449.1 L124.0,449.2 L125.1,448.7 L126.2,450.7 L127.3,448.7 L128.4,449.8 L129.5,449.7 L130.0,450.3 L130.6,449.0 L131.7,450.5 L132.8,449.6 L133.9,449.9 L135.0,449.7 L136.1,450.3 L137.2,449.4 L138.3,450.0 L139.4,450.2 L140.0,450.3 L140.5,448.8 L141.6,450.7 L142.7,450.5 L143.8,449.8 L144.9,450.1 L146.0,449.8 L147.1,450.8 L148.2,450.1 L149.3,449.9 L150.0,450.0 L150.4,449.9 L151.5,449.8 L152.6,449.4 L153.7,450.8 L154.8,448.8 L155.9,447.9 L157.0,449.5 L158.0,449.5 L158.1,449.7 L159.2,449.1 L160.3,448.9 L161.4,448.9 L162.5,449.0 L163.6,448.1 L164.7,447.9 L165.0,448.3 L165.8,448.0 L166.9,446.7 L168.0,448.0 L169.1,446.8 L170.0,445.9 L170.2,445.3 L171.3,445.7 L172.4,444.7 L173.5,444.2 L174.0,444.4 L174.6,444.8 L175.7,446.5 L176.8,446.6 L177.0,446.7 L177.9,448.1 L179.0,448.7 L180.0,449.6 L180.1,450.1 L181.2,449.5 L182.3,449.5 L183.4,449.6 L184.5,449.2 L185.6,450.1 L186.7,450.5 L187.8,450.0 L188.9,449.8 L190.0,449.9 L190.0,449.9 L191.1,449.6 L192.2,449.7 L193.3,449.5 L194.4,449.6 L195.5,449.0 L196.0,449.9 L196.6,449.4 L197.7,448.0 L198.8,446.7 L199.9,447.1 L200.0,447.2 L201.0,444.1 L202.0,441.9 L202.1,441.5 L203.2,439.8 L204.0,437.4 L204.3,438.4 L205.4,438.1 L206.5,439.3 L207.0,439.0 L207.6,439.2 L208.7,439.0 L209.8,440.0 L210.0,440.4 L210.9,441.0 L212.0,440.8 L213.1,440.4 L214.2,441.2 L215.0,441.2 L215.3,440.9 L216.4,440.9 L217.5,441.0 L218.6,441.8 L219.7,441.8 L220.0,441.3 L220.8,441.9 L221.9,441.6 L223.0,441.7 L224.1,443.0 L225.0,442.7 L225.2,442.1 L226.3,442.8 L227.4,443.3 L228.5,442.9 L229.6,443.5 L229.8,443.7 L230.7,438.8 L231.8,435.5 L232.8,431.4 L232.9,431.5 L234.0,429.8 L235.1,430.6 L236.2,429.4 L237.3,430.0 L238.4,429.7 L239.5,429.0 L239.7,428.6 L240.6,430.2 L241.7,433.4 L242.8,434.4 L243.9,437.5 L244.6,438.7 L245.0,438.6 L246.1,440.5 L247.2,439.5 L248.3,441.1 L249.4,439.0 L250.5,439.2 L251.6,441.4 L252.0,441.1 L252.7,440.9 L253.8,441.2 L254.9,440.3 L256.0,441.2 L257.1,441.1 L258.2,441.7 L259.3,442.5 L260.4,442.1 L261.5,442.5 L261.9,442.2 L262.6,440.2 L263.7,437.5 L264.8,434.3 L265.9,432.4 L266.9,428.6 L267.0,430.1 L268.1,427.3 L269.2,428.0 L270.3,425.9 L271.4,427.0 L272.5,425.1 L273.6,424.6 L274.3,424.0 L274.7,422.6 L275.8,420.5 L276.9,417.8 L278.0,418.7 L278.0,417.5 L279.1,419.4 L280.2,422.0 L281.3,425.7 L281.7,424.5 L282.4,423.3 L283.5,419.7 L284.6,417.5 L285.7,412.4 L286.6,411.4 L286.8,411.9 L287.9,410.3 L289.0,408.2 L290.1,403.6 L291.2,402.3 L291.5,401.6 L292.3,396.9 L293.4,392.4 L294.5,390.5 L295.2,386.9 L295.6,386.5 L296.7,387.8 L297.8,384.8 L298.9,386.3 L299.0,385.6 L300.0,389.2 L301.1,393.8 L302.2,397.4 L302.7,399.1 L303.3,400.1 L304.4,403.3 L305.5,402.5 L306.4,404.4 L306.6,403.7 L307.7,397.4 L308.8,393.4 L309.9,386.3 L310.0,387.3 L311.0,381.9 L312.1,378.0 L313.2,374.8 L313.8,372.4 L314.3,371.6 L315.4,367.9 L316.5,362.7 L317.5,359.1 L317.6,361.2 L318.7,369.5 L319.8,376.6 L320.0,379.8 L320.9,385.0 L322.0,390.2 L322.9,396.9 L323.1,394.0 L324.2,387.7 L325.3,382.4 L326.1,376.3 L326.4,376.4 L327.5,372.4 L328.6,372.9 L329.7,368.7 L329.8,369.6 L330.8,366.8 L331.9,367.6 L333.0,368.7 L333.5,367.2 L334.1,364.5 L335.0,367.7 L335.2,368.3 L336.3,365.4 L337.4,366.9 L337.6,364.2 L338.5,371.2 L339.6,380.9 L340.2,384.5 L340.7,385.8 L341.8,383.6 L342.9,383.5 L344.0,386.6 L344.0,384.7 L345.1,387.8 L346.2,387.9 L347.3,392.1 L347.8,391.9 L348.4,393.8 L349.5,396.1 L350.6,399.0 L351.7,401.7 L351.7,402.2 L352.8,404.3 L353.9,406.7 L355.0,408.1 L355.5,410.1 L356.1,409.4 L357.2,409.7 L358.3,409.0 L359.4,406.7 L359.4,405.4 L360.5,410.4 L361.6,411.0 L362.7,413.7 L363.2,414.5 L363.8,415.5 L364.9,415.9 L366.0,418.3 L367.0,419.6 L367.1,419.6 L368.2,416.9 L369.3,418.8 L370.4,417.6 L370.9,416.5 L371.5,415.2 L372.6,413.7 L373.7,412.0 L374.7,409.5 L374.8,410.7 L375.9,408.8 L377.0,407.1 L378.1,406.7 L378.6,407.2 L379.2,405.4 L380.3,404.9 L381.4,403.2 L382.4,400.7 L382.5,401.5 L383.6,399.9 L384.7,399.7 L385.8,398.7 L386.2,399.0 L386.9,398.3 L388.0,400.4 L389.1,400.9 L390.1,402.5 L390.2,403.1 L391.3,402.7 L392.4,401.1 L393.5,402.2 L393.9,400.8 L394.6,400.4 L395.7,396.9 L396.8,394.0 L397.8,394.2 L397.9,393.5 L399.0,384.5 L400.0,375.2 L400.1,375.3 L401.2,357.9 L401.5,354.6 L402.3,349.1 L403.4,341.8 L404.4,340.7 L404.5,341.8 L405.6,318.9 L405.6,321.9 L406.7,285.5 L406.8,283.7 L407.6,292.0 L407.8,293.9 L408.9,299.5 L409.1,303.1 L410.0,307.0 L411.0,310.2 L411.1,309.0 L412.2,324.0 L412.9,328.9 L413.3,329.4 L414.4,314.6 L414.8,314.5 L415.5,313.1 L416.6,321.0 L417.7,324.3 L417.7,321.7 L418.8,322.4 L419.9,327.2 L420.5,328.1 L421.0,330.8 L422.1,341.6 L422.4,343.2 L423.2,346.8 L424.3,352.6 L425.2,356.1 L425.4,358.7 L426.5,356.2 L427.6,356.2 L428.5,361.0 L428.7,360.1 L429.8,362.1 L430.0,362.2 L430.9,361.3 L432.0,360.9 L432.3,359.0 L433.1,360.6 L434.2,369.4 L434.9,374.5 L435.3,374.7 L436.4,381.0 L437.4,383.9 L437.5,383.5 L438.6,386.6 L439.7,386.6 L440.8,385.8 L441.3,386.8 L441.9,376.5 L442.5,369.7 L443.0,350.0 L443.2,340.0 L444.0,374.5 L444.1,376.9 L445.1,389.1 L445.2,390.6 L446.3,390.9 L447.4,390.2 L448.5,390.7 L449.0,391.5 L449.6,392.5 L450.7,396.6 L451.8,398.9 L452.8,399.7 L452.9,399.2 L454.0,393.7 L455.1,390.2 L456.2,383.9 L456.6,382.7 L457.3,381.7 L458.4,385.0 L459.5,389.1 L460.5,388.6 L460.6,387.1 L461.7,386.4 L462.8,386.4 L463.9,383.9 L464.3,381.1 L465.0,372.4 L465.6,365.9 L466.1,365.7 L467.2,369.1 L468.2,370.9 L468.3,369.5 L469.4,376.4 L470.5,382.6 L470.7,383.5 L471.6,383.7 L472.7,387.6 L473.8,390.2 L474.6,388.9 L474.9,388.5 L476.0,389.6 L477.1,388.7 L478.2,388.1 L478.4,389.6 L479.3,390.9 L480.4,394.9 L481.5,398.7 L482.2,401.5 L482.6,401.4 L483.7,401.9 L484.8,402.4 L485.9,401.3 L486.1,400.5 L487.0,399.4 L488.1,400.9 L489.2,400.3 L490.3,401.5 L491.2,402.1 L491.4,402.4 L492.5,404.2 L493.6,405.9 L494.7,408.9 L495.0,409.5 L495.8,409.7 L496.9,411.5 L498.0,414.2 L498.9,414.1 L499.1,414.2 L500.2,413.6 L501.3,416.0 L502.4,415.1 L503.5,415.1 L504.0,414.7 L504.6,413.7 L505.7,411.5 L506.8,407.5 L507.8,407.1 L507.9,407.5 L509.0,405.2 L510.1,407.0 L511.2,406.4 L511.7,405.1 L512.3,405.4 L513.4,406.2 L514.5,406.5 L515.6,408.0 L516.7,406.9 L516.8,408.1 L517.8,408.7 L518.9,409.4 L520.0,409.1 L521.1,409.1 L521.9,409.7 L522.2,407.7 L523.3,410.7 L524.4,409.9 L525.5,409.3 L526.6,410.3 L527.0,410.2 L527.7,408.7 L528.8,410.0 L529.9,409.4 L531.0,410.5 L532.1,408.7 L532.2,409.1 L533.2,408.1 L534.3,410.1 L535.4,408.0 L536.5,406.8 L537.3,406.7 L537.6,406.2 L538.7,408.2 L539.8,409.8 L540.9,411.6 L542.0,412.7 L542.4,412.1 L543.1,410.7 L544.2,409.4 L545.3,407.0 L546.4,407.1 L547.5,407.1 L547.5,406.7 L548.6,407.6 L549.7,406.2 L550.8,408.6 L551.9,408.3 L552.6,408.2 L553.0,408.3 L554.1,405.1 L555.2,405.9 L556.3,404.9 L556.5,406.2 L557.4,406.9 L558.5,408.5 L559.6,411.6 L560.3,411.7 L560.7,413.7 L561.8,412.9 L562.9,414.5 L564.0,414.9 L564.2,416.1 L565.1,414.3 L566.2,417.2 L567.3,416.3 L568.0,417.2 L568.4,415.8 L569.5,415.9 L570.6,414.7 L571.7,413.9 L571.8,413.4 L572.8,414.4 L573.9,415.2 L574.4,414.5 L575.0,410.6 L576.1,405.0 L577.0,402.0 L577.2,400.5 L578.3,397.3 L579.4,391.4 L580.5,385.3 L580.8,385.6 L581.6,389.5 L582.7,389.7 L583.4,391.2 L583.8,391.2 L584.9,394.6 L586.0,394.5 L587.1,396.1 L587.2,397.0 L588.2,396.0 L589.3,395.3 L590.4,393.8 L591.0,393.8 L591.5,396.2 L592.6,400.6 L593.6,404.6 L593.7,403.8 L594.8,403.9 L595.9,403.3 L597.0,402.2 L597.4,402.0 L598.1,400.8 L599.2,396.6 L600.0,394.0 L600.3,392.7 L601.4,393.5 L602.5,392.3 L603.6,391.4 L603.8,391.3 L604.7,391.1 L605.8,391.9 L606.9,388.0 L607.7,386.4 L608.0,386.6 L609.0,385.0 L609.1,385.6 L610.2,387.5 L611.3,390.4 L611.5,391.7 L612.4,393.6 L613.5,395.4 L614.6,396.9 L615.4,399.4 L615.7,398.2 L616.8,400.4 L617.9,399.5 L619.0,400.1 L620.1,401.2 L620.5,400.7 L621.2,399.0 L622.3,399.8 L623.4,400.2 L624.5,398.4 L625.6,398.4 L625.6,399.2 L626.7,400.7 L627.8,402.7 L628.9,403.8 L629.4,404.4 L630.0,404.2 L631.1,404.6 L632.2,403.0 L633.3,402.0 L633.3,401.4 L634.4,395.5 L635.5,386.4 L635.9,384.2 L636.6,375.8 L637.7,370.4 L637.9,368.5 L638.8,368.3 L639.9,371.3 L640.5,370.0 L641.0,372.1 L642.1,377.1 L642.3,379.6 L643.2,380.0 L644.3,380.3 L645.4,378.8 L646.1,380.6 L646.5,381.2 L647.6,381.7 L648.7,383.4 L649.8,383.1 L649.9,385.5 L650.9,384.2 L652.0,386.9 L653.1,385.7 L653.8,386.2 L654.2,387.1 L655.3,387.2 L656.4,386.0 L657.5,387.6 L657.6,387.9 L658.6,389.4 L659.7,390.3 L660.8,393.8 L661.5,395.0 L661.9,394.6 L663.0,394.9 L664.1,394.5 L665.2,393.9 L665.3,393.5 L666.3,393.5 L667.4,391.8 L668.5,390.4 L669.1,390.4 L669.6,391.9 L670.7,387.0 L671.8,385.4 L672.5,386.8 L672.9,386.7 L674.0,392.2 L674.8,392.5 L675.1,391.4 L676.2,389.4 L676.8,386.9 L677.3,388.8 L678.4,392.8 L678.9,394.1 L679.5,383.7 L680.0,375.9 L680.6,363.6 L680.8,357.4 L681.7,354.3 L682.7,351.4 L682.8,352.3 L683.9,350.7 L685.0,346.5 L685.6,345.5 L686.1,344.0 L687.2,343.4 L688.3,334.8 L688.4,334.8 L689.4,328.5 L689.7,330.9 L690.5,330.2 L691.3,334.3 L691.6,332.0 L692.7,325.7 L693.2,322.9 L693.8,325.0 L694.9,327.4 L695.1,327.2 L696.0,322.2 L697.0,306.0 L697.1,306.7 L698.2,305.4 L698.5,300.7 L699.3,308.3 L700.4,317.2 L700.4,320.6 L701.5,316.6 L701.7,318.4 L702.6,309.3 L703.6,296.5 L703.7,296.6 L704.8,304.0 L705.5,303.5 L705.9,305.9 L706.8,310.0 L707.0,305.7 L708.1,301.0 L708.7,295.7 L709.2,292.6 L710.2,292.2 L710.3,290.4 L711.4,268.6 L711.6,265.2 L712.5,295.9 L712.7,300.9 L713.6,305.1 L714.0,305.6 L714.7,309.4 L715.6,318.5 L715.8,315.9 L716.9,312.9 L717.5,310.1 L718.0,316.4 L718.8,322.8 L719.1,322.5 L720.2,325.2 L720.7,325.7 L721.3,315.0 L722.0,301.1 L722.4,292.4 L723.5,278.9 L723.5,272.2 L724.6,260.8 L724.9,260.7 L725.3,254.1 L725.7,250.3 L726.8,245.3 L727.6,230.7 L727.9,232.0 L729.0,219.1 L729.0,220.0 L729.8,203.9 L730.1,198.4 L730.2,186.2 L731.2,178.8 L731.6,181.5 L732.3,162.1 L732.6,154.5 L733.4,133.7 L734.1,115.8 L734.5,114.5 L735.3,126.8 L735.6,129.8 L736.3,115.2 L736.7,119.7 L737.5,133.5 L737.8,123.4 L738.8,113.0 L738.9,112.0 L739.8,120.8 L740.0,122.3 L741.0,108.0 L741.1,108.5 L742.0,134.7 L742.2,142.6 L743.0,158.4 L743.3,151.6 L744.4,144.5 L744.4,155.7 L745.5,149.7 L745.9,151.2 L746.6,161.3 L747.4,168.5 L747.7,174.6 L748.8,173.9 L748.9,178.6 L749.9,170.3 L750.1,175.8 L751.0,180.5 L751.9,190.0 L752.1,195.8 L753.0,201.3 L753.2,203.3 L754.3,213.7 L754.8,215.0 L755.4,212.5 L756.3,210.9 L756.5,211.8 L757.6,201.2 L757.7,202.4 L758.7,184.3 L758.8,180.3 L759.6,164.8 L759.8,142.1 L760.0,130.7 L760.9,137.5 L761.2,142.2 L762.0,137.8 L762.5,135.7 L763.1,144.2 L763.7,150.6 L764.2,145.9 L764.9,136.1 L765.3,132.0 L766.4,120.6 L766.4,121.6 L767.5,130.2 L767.7,134.5 L768.6,145.2 L769.1,157.1 L769.7,162.3 L770.6,161.9 L770.8,156.9 L771.9,155.2 L771.9,162.4 L773.0,168.8 L773.3,176.4 L774.1,180.2 L774.8,180.1 L775.2,172.7 L776.0,174.1 L776.3,182.6 L777.2,201.7 L777.4,207.0 L778.1,226.4 L778.5,223.8 L779.5,214.4 L779.6,208.9 L780.7,197.8 L780.8,192.3 L781.8,167.5 L782.3,158.4 L782.9,129.8 L783.2,109.2 L784.0,117.4 L784.4,127.9 L785.1,131.7 L785.4,132.8 L786.2,133.9 L786.4,136.6" stroke="#df3f68" stroke-width="0.9" fill="none" stroke-linejoin="round"/>
<text x="75.6" y="456.7" text-anchor="end" class="t">$0</text>
<text x="791.8" y="456.7" class="t">$0</text>
<text x="75.6" y="383.4" text-anchor="end" class="t">$2,500</text>
<text x="791.8" y="383.4" class="t">$2,500</text>
<text x="75.6" y="310.1" text-anchor="end" class="t">$5,000</text>
<text x="791.8" y="310.1" class="t">$5,000</text>
<text x="75.6" y="236.7" text-anchor="end" class="t">$7,500</text>
<text x="791.8" y="236.7" class="t">$7,500</text>
<text x="75.6" y="163.4" text-anchor="end" class="t">$10,000</text>
<text x="791.8" y="163.4" class="t">$10,000</text>
<text x="75.6" y="90.1" text-anchor="end" class="t">$12,500</text>
<text x="791.8" y="90.1" class="t">$12,500</text>
<text transform="translate(82.00,458.3) rotate(-90)" text-anchor="end" class="xl">6/3/2019</text>
<text transform="translate(90.38,458.3) rotate(-90)" text-anchor="end" class="xl">6/25/2019</text>
<text transform="translate(98.77,458.3) rotate(-90)" text-anchor="end" class="xl">7/18/2019</text>
<text transform="translate(107.15,458.3) rotate(-90)" text-anchor="end" class="xl">8/9/2019</text>
<text transform="translate(115.53,458.3) rotate(-90)" text-anchor="end" class="xl">9/3/2019</text>
<text transform="translate(123.91,458.3) rotate(-90)" text-anchor="end" class="xl">9/25/2019</text>
<text transform="translate(132.30,458.3) rotate(-90)" text-anchor="end" class="xl">10/17/2019</text>
<text transform="translate(140.68,458.3) rotate(-90)" text-anchor="end" class="xl">11/8/2019</text>
<text transform="translate(149.06,458.3) rotate(-90)" text-anchor="end" class="xl">12/3/2019</text>
<text transform="translate(157.45,458.3) rotate(-90)" text-anchor="end" class="xl">12/26/2019</text>
<text transform="translate(165.83,458.3) rotate(-90)" text-anchor="end" class="xl">1/21/2020</text>
<text transform="translate(174.21,458.3) rotate(-90)" text-anchor="end" class="xl">2/12/2020</text>
<text transform="translate(182.60,458.3) rotate(-90)" text-anchor="end" class="xl">3/6/2020</text>
<text transform="translate(190.98,458.3) rotate(-90)" text-anchor="end" class="xl">3/30/2020</text>
<text transform="translate(199.36,458.3) rotate(-90)" text-anchor="end" class="xl">4/22/2020</text>
<text transform="translate(207.74,458.3) rotate(-90)" text-anchor="end" class="xl">5/14/2020</text>
<text transform="translate(216.13,458.3) rotate(-90)" text-anchor="end" class="xl">6/8/2020</text>
<text transform="translate(224.51,458.3) rotate(-90)" text-anchor="end" class="xl">6/30/20</text>
<text transform="translate(232.89,458.3) rotate(-90)" text-anchor="end" class="xl">7/23/20</text>
<text transform="translate(241.28,458.3) rotate(-90)" text-anchor="end" class="xl">8/14/20</text>
<text transform="translate(249.66,458.3) rotate(-90)" text-anchor="end" class="xl">9/8/20</text>
<text transform="translate(258.04,458.3) rotate(-90)" text-anchor="end" class="xl">9/30/20</text>
<text transform="translate(266.43,458.3) rotate(-90)" text-anchor="end" class="xl">10/22/20</text>
<text transform="translate(274.81,458.3) rotate(-90)" text-anchor="end" class="xl">11/13/20</text>
<text transform="translate(283.19,458.3) rotate(-90)" text-anchor="end" class="xl">12/8/20</text>
<text transform="translate(291.57,458.3) rotate(-90)" text-anchor="end" class="xl">12/31/20</text>
<text transform="translate(299.96,458.3) rotate(-90)" text-anchor="end" class="xl">1/16/21</text>
<text transform="translate(308.34,458.3) rotate(-90)" text-anchor="end" class="xl">2/1/21</text>
<text transform="translate(316.72,458.3) rotate(-90)" text-anchor="end" class="xl">2/17/21</text>
<text transform="translate(325.11,458.3) rotate(-90)" text-anchor="end" class="xl">3/5/21</text>
<text transform="translate(333.49,458.3) rotate(-90)" text-anchor="end" class="xl">3/29/21</text>
<text transform="translate(341.87,458.3) rotate(-90)" text-anchor="end" class="xl">4/20/21</text>
<text transform="translate(350.26,458.3) rotate(-90)" text-anchor="end" class="xl">5/12/21</text>
<text transform="translate(358.64,458.3) rotate(-90)" text-anchor="end" class="xl">6/4/21</text>
<text transform="translate(367.02,458.3) rotate(-90)" text-anchor="end" class="xl">6/28/21</text>
<text transform="translate(375.40,458.3) rotate(-90)" text-anchor="end" class="xl">7/21/21</text>
<text transform="translate(383.79,458.3) rotate(-90)" text-anchor="end" class="xl">8/12/21</text>
<text transform="translate(392.17,458.3) rotate(-90)" text-anchor="end" class="xl">9/3/21</text>
<text transform="translate(400.55,458.3) rotate(-90)" text-anchor="end" class="xl">9/28/21</text>
<text transform="translate(408.94,458.3) rotate(-90)" text-anchor="end" class="xl">10/20/21</text>
<text transform="translate(417.32,458.3) rotate(-90)" text-anchor="end" class="xl">11/11/21</text>
<text transform="translate(425.70,458.3) rotate(-90)" text-anchor="end" class="xl">12/5/21</text>
<text transform="translate(434.09,458.3) rotate(-90)" text-anchor="end" class="xl">12/27/21</text>
<text transform="translate(442.47,458.3) rotate(-90)" text-anchor="end" class="xl">1/19/22</text>
<text transform="translate(450.85,458.3) rotate(-90)" text-anchor="end" class="xl">2/10/22</text>
<text transform="translate(459.23,458.3) rotate(-90)" text-anchor="end" class="xl">3/4/22</text>
<text transform="translate(467.62,458.3) rotate(-90)" text-anchor="end" class="xl">3/28/22</text>
<text transform="translate(476.00,458.3) rotate(-90)" text-anchor="end" class="xl">4/19/22</text>
<text transform="translate(484.38,458.3) rotate(-90)" text-anchor="end" class="xl">5/10/22</text>
<text transform="translate(492.77,458.3) rotate(-90)" text-anchor="end" class="xl">6/1/22</text>
<text transform="translate(501.15,458.3) rotate(-90)" text-anchor="end" class="xl">6/23/22</text>
<text transform="translate(509.53,458.3) rotate(-90)" text-anchor="end" class="xl">7/15/22</text>
<text transform="translate(517.92,458.3) rotate(-90)" text-anchor="end" class="xl">8/8/22</text>
<text transform="translate(526.30,458.3) rotate(-90)" text-anchor="end" class="xl">8/30/22</text>
<text transform="translate(534.68,458.3) rotate(-90)" text-anchor="end" class="xl">9/21/22</text>
<text transform="translate(543.06,458.3) rotate(-90)" text-anchor="end" class="xl">10/13/22</text>
<text transform="translate(551.45,458.3) rotate(-90)" text-anchor="end" class="xl">11/4/22</text>
<text transform="translate(559.83,458.3) rotate(-90)" text-anchor="end" class="xl">11/28/22</text>
<text transform="translate(568.21,458.3) rotate(-90)" text-anchor="end" class="xl">12/20/22</text>
<text transform="translate(576.60,458.3) rotate(-90)" text-anchor="end" class="xl">1/11/23</text>
<text transform="translate(584.98,458.3) rotate(-90)" text-anchor="end" class="xl">2/2/23</text>
<text transform="translate(593.36,458.3) rotate(-90)" text-anchor="end" class="xl">2/24/23</text>
<text transform="translate(601.75,458.3) rotate(-90)" text-anchor="end" class="xl">3/20/23</text>
<text transform="translate(610.13,458.3) rotate(-90)" text-anchor="end" class="xl">4/11/23</text>
<text transform="translate(618.51,458.3) rotate(-90)" text-anchor="end" class="xl">5/3/23</text>
<text transform="translate(626.89,458.3) rotate(-90)" text-anchor="end" class="xl">5/25/23</text>
<text transform="translate(635.28,458.3) rotate(-90)" text-anchor="end" class="xl">6/16/23</text>
<text transform="translate(643.66,458.3) rotate(-90)" text-anchor="end" class="xl">7/10/23</text>
<text transform="translate(652.04,458.3) rotate(-90)" text-anchor="end" class="xl">8/1/23</text>
<text transform="translate(660.43,458.3) rotate(-90)" text-anchor="end" class="xl">8/23/23</text>
<text transform="translate(668.81,458.3) rotate(-90)" text-anchor="end" class="xl">9/14/23</text>
<text transform="translate(677.19,458.3) rotate(-90)" text-anchor="end" class="xl">10/6/2023</text>
<text transform="translate(685.58,458.3) rotate(-90)" text-anchor="end" class="xl">10/30/2023</text>
<text transform="translate(693.96,458.3) rotate(-90)" text-anchor="end" class="xl">11/21/2023</text>
<text transform="translate(702.34,458.3) rotate(-90)" text-anchor="end" class="xl">12/13/2023</text>
<text transform="translate(710.72,458.3) rotate(-90)" text-anchor="end" class="xl">1/4/2024</text>
<text transform="translate(719.11,458.3) rotate(-90)" text-anchor="end" class="xl">1/26/2024</text>
<text transform="translate(727.49,458.3) rotate(-90)" text-anchor="end" class="xl">2/19/2024</text>
<text transform="translate(735.87,458.3) rotate(-90)" text-anchor="end" class="xl">3/12/2024</text>
<text transform="translate(744.26,458.3) rotate(-90)" text-anchor="end" class="xl">4/3/2024</text>
<text transform="translate(752.64,458.3) rotate(-90)" text-anchor="end" class="xl">4/25/2024</text>
<text transform="translate(761.02,458.3) rotate(-90)" text-anchor="end" class="xl">5/17/2024</text>
<text transform="translate(769.41,458.3) rotate(-90)" text-anchor="end" class="xl">6/10/2024</text>
<text transform="translate(777.79,458.3) rotate(-90)" text-anchor="end" class="xl">7/2/2024</text>
<text transform="translate(786.17,458.3) rotate(-90)" text-anchor="end" class="xl">7/24/2024</text>
<text transform="translate(32.0,291.8) rotate(-90)" text-anchor="middle" class="t" style="font-size:8.25px">Volume (million USD)</text>
<text transform="translate(840.8,291.8) rotate(-90)" text-anchor="middle" class="t" style="font-size:8.3px">Open Interest (million USD)</text>
<rect x="362.6" y="56.8" width="8.6" height="8.6" rx="0.8" fill="#2a2257"/>
<text x="377.2" y="64.2" class="t">Volume (USD)</text>
<rect x="439.3" y="56.8" width="8.6" height="8.6" rx="0.8" fill="#e23f6b"/>
<text x="453.6" y="64.2" class="t">Open Interest</text>
<text id="title" x="436.8" y="37.4" text-anchor="middle" class="title">Daily volume and Open Interest of CME Bitcoin futures</text>
<g fill="none" stroke="#111" stroke-width="1.55" stroke-linejoin="round" stroke-linecap="round"><path d="M13.6,3.5 L21.8,7 L21.8,18.8 L13.6,22.2 L5.2,18.8 L5.2,7 Z"/><path d="M5.2,7 L13.6,10.5 L21.8,7 M5.2,18.8 L13.6,15.7 L21.8,18.8" stroke-width="1.4"/><circle cx="13.6" cy="12.9" r="2.45" fill="#fff" stroke-width="1.35"/></g>
<text id="logo" transform="translate(28.9,18.7) scale(1.215,1)" class="logo">THE BLOCK <tspan fill="#1351c4">PRO</tspan></text>
<rect x="29.0" y="27.9" width="2" height="2" fill="#222"/>
<text id="res" x="34.6" y="32.4" class="res">RESEARCH</text>
</svg>
</body></html>
